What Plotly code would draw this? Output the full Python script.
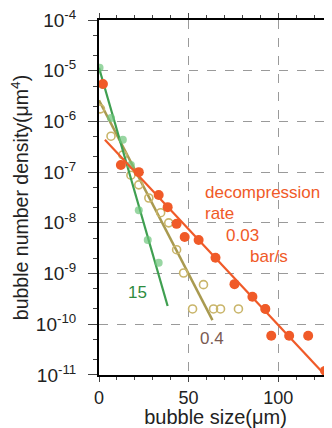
import plotly.graph_objects as go

# data: bubble size (um) and log10 bubble number density
red_x = [2.2, 12.2, 22.2, 33.3, 38.3, 43.3, 47.8, 55.6, 65.0, 75.6, 85.6, 92.8, 96.1, 106.1, 116.7, 126.1]
red_logy = [-5.26, -6.86, -7.00, -7.45, -7.69, -8.02, -8.28, -8.34, -8.69, -9.21, -9.46, -9.70, -10.23, -10.23, -10.23, -10.92]
red_fit_x = [3.3, 124.4]
red_fit_logy = [-6.36, -10.94]

green_x = [0.3, 2.2, 6.7, 13.3, 17.8, 22.2, 27.2, 33.3]
green_logy = [-4.94, -5.28, -5.93, -6.36, -6.86, -7.75, -8.34, -8.79]
green_fit_x = [0.0, 38.3]
green_fit_logy = [-4.94, -9.64]

tan_x = [0.8, 6.7, 13.3, 17.8, 22.2, 27.8, 34.4, 38.9, 43.3, 47.2, 58.3, 52.2, 63.9, 67.8, 77.8, 92.8]
tan_logy = [-5.75, -6.29, -6.66, -7.06, -7.25, -7.51, -7.80, -8.00, -8.53, -8.99, -9.22, -9.70, -9.70, -9.70, -9.70, -9.70]
tan_fit_x = [0.0, 63.3]
tan_fit_logy = [-5.58, -9.92]

ytick_exp = [-4, -5, -6, -7, -8, -9, -10, -11]
xtick_vals = [0, 50, 100]

RED = "#f05a28"
GREEN = "#6cc47a"
GREEN_LINE = "#3f9f50"
TAN = "#c9b56a"

def p(v):
    return [10 ** a for a in v]

fig = go.Figure()
fig.add_trace(go.Scatter(x=tan_fit_x, y=p(tan_fit_logy), mode="lines",
                         line=dict(color="#a99a50", width=2.5), showlegend=False))
fig.add_trace(go.Scatter(x=tan_x, y=p(tan_logy), mode="markers",
                         marker=dict(symbol="circle-open", size=8, color=TAN, line=dict(width=1.6)),
                         showlegend=False))
fig.add_trace(go.Scatter(x=green_fit_x, y=p(green_fit_logy), mode="lines",
                         line=dict(color=GREEN_LINE, width=2.2), showlegend=False))
fig.add_trace(go.Scatter(x=green_x, y=p(green_logy), mode="markers",
                         marker=dict(symbol="circle", size=8, color=GREEN, opacity=0.7),
                         showlegend=False))
fig.add_trace(go.Scatter(x=red_fit_x, y=p(red_fit_logy), mode="lines",
                         line=dict(color=RED, width=2.2), showlegend=False))
fig.add_trace(go.Scatter(x=red_x, y=p(red_logy), mode="markers",
                         marker=dict(symbol="circle", size=10, color=RED),
                         showlegend=False))

font = "Liberation Sans, Arial, sans-serif"
labels = [
    dict(x=15, y=-9.38, text="15", color="#2e8b3e"),
    dict(x=55, y=-10.29, text="0.4", color="#7a5a52"),
    dict(x=58.0, y=-7.41, text="decompression", color=RED),
    dict(x=58.0, y=-7.82, text="rate", color=RED),
    dict(x=70.0, y=-8.24, text="0.03", color=RED),
    dict(x=83.0, y=-8.67, text="bar/s", color=RED),
]
for a in labels:
    fig.add_annotation(x=a["x"], y=a["y"], xref="x", yref="y", text=a["text"], showarrow=False,
                       font=dict(family=font, size=17, color=a["color"]), xanchor="left")

# page body has an 8px margin, so the figure is 8px smaller and margins shifted
fig.update_layout(
    width=324, height=420,
    margin=dict(l=91, r=0, t=12, b=53),
    paper_bgcolor="white", plot_bgcolor="white",
    font=dict(family=font, size=15, color="#222"),
    xaxis=dict(range=[0, 130], tickvals=xtick_vals, ticks="outside", ticklen=5,
               automargin=False,
               showline=True, linecolor="black", linewidth=2, mirror="ticks",
               showgrid=True, gridcolor="#9a9a9a", griddash="dash", gridwidth=1.2,
               zeroline=False,
               minor=dict(dtick=10, ticks="outside", ticklen=3, showgrid=False),
               title=dict(text="bubble size(μm)", font=dict(size=20), standoff=2),
               tickfont=dict(size=18)),
    yaxis=dict(type="log", range=[-11.003, -3.997], automargin=False,
               tickvals=[10 ** e for e in ytick_exp],
               ticktext=["10<sup>%d</sup>" % e for e in ytick_exp],
               ticklabeloverflow="allow",
               ticks="outside", ticklen=9, ticklabelstandoff=8,
               showline=True, linecolor="black", linewidth=2,
               showgrid=True, gridcolor="#9a9a9a", griddash="dash", gridwidth=1.2,
               zeroline=False,
               minor=dict(ticks="outside", ticklen=4, showgrid=False),
               title=dict(text="bubble number density(μm<sup>4</sup>)", font=dict(size=19.5), standoff=4),
               tickfont=dict(size=19)),
)

fig.write_html("out.html")
